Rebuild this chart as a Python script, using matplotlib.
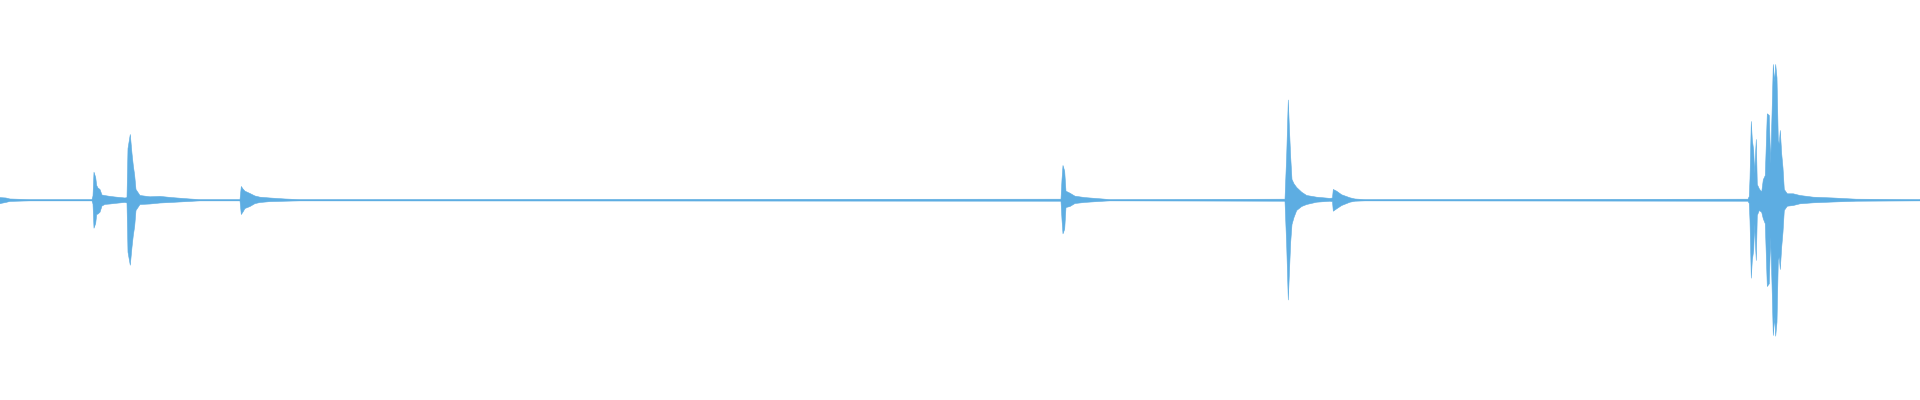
import numpy as np
import matplotlib.pyplot as plt

# Waveform envelope (x in pixel columns, amplitude in -1..1)
t_pts = [
    0, 6, 10, 30, 92, 93, 94, 95.7, 96.7, 98, 100, 102, 105, 110, 115, 125,
    127, 128, 130.3, 132, 133.3, 134.7, 136, 140, 150, 160, 172, 190, 200,
    240, 241.3, 243, 245, 250, 255, 260, 270, 285, 300,
    1061, 1062, 1063, 1064.7, 1066, 1070, 1075, 1085, 1100, 1110,
    1285, 1286.7, 1288.3, 1289.3, 1290.7, 1292, 1294, 1296.7, 1301.7, 1306.7,
    1316.7, 1330, 1332.5, 1333.3, 1336.7, 1341.7, 1350, 1355, 1365,
    1748, 1749.3, 1750, 1751.3, 1752.3, 1753.7, 1754.7, 1755.3, 1756.3, 1757.3,
    1759.3, 1761.7, 1763.3, 1765.3, 1767.3, 1769.3, 1770.7, 1772, 1773.3,
    1774.7, 1775.7, 1777, 1778.3, 1779.3, 1780.3, 1781.7, 1783, 1784.3,
    1787.3, 1793.3, 1800, 1813.3, 1833.3, 1856, 1920,
]
upper = [
    0.012, 0.010, 0.005, 0.002, 0.002, 0.020, 0.139, 0.1125, 0.0725, 0.060,
    0.0525, 0.025, 0.022, 0.018, 0.015, 0.010,
    0.012, 0.2575, 0.3275, 0.2325, 0.1725, 0.1225, 0.0525, 0.0225, 0.016,
    0.018, 0.012, 0.005, 0.002,
    0.002, 0.0675, 0.055, 0.044, 0.0325, 0.020, 0.014, 0.010, 0.005, 0.002,
    0.004, 0.1025, 0.1725, 0.144, 0.044, 0.034, 0.019, 0.012, 0.006, 0.002,
    0.004, 0.2225, 0.500, 0.3725, 0.214, 0.1025, 0.081, 0.0625, 0.039, 0.0225,
    0.014, 0.008, 0.010, 0.0525, 0.044, 0.026, 0.011, 0.005, 0.002,
    0.004, 0.0175, 0.106, 0.3925, 0.3025, 0.2475, 0.131, 0.2025, 0.3025, 0.0775,
    0.056, 0.039, 0.101, 0.1225, 0.431, 0.4225, 0.181, 0.4225, 0.6775,
    0.589, 0.6775, 0.611, 0.2975, 0.281, 0.3475, 0.231, 0.161, 0.0525,
    0.031, 0.031, 0.0225, 0.014, 0.010, 0.004, 0.002,
]
lower = [
    -0.018, -0.012, -0.007, -0.004, -0.004, -0.020, -0.141, -0.1175, -0.0725,
    -0.070, -0.061, -0.030, -0.022, -0.020, -0.017, -0.012,
    -0.015, -0.261, -0.326, -0.236, -0.1775, -0.131, -0.0525, -0.0225, -0.020,
    -0.015, -0.012, -0.007, -0.004,
    -0.004, -0.0725, -0.060, -0.0425, -0.0325, -0.018, -0.0125, -0.008, -0.006,
    -0.004,
    -0.006, -0.099, -0.169, -0.146, -0.0375, -0.0325, -0.0175, -0.012, -0.007,
    -0.004,
    -0.006, -0.2275, -0.500, -0.3775, -0.211, -0.1225, -0.0875, -0.0525,
    -0.0325, -0.0225,
    -0.011, -0.006, -0.008, -0.056, -0.044, -0.0275, -0.011, -0.006, -0.004,
    -0.006, -0.0175, -0.1025, -0.391, -0.3025, -0.2525, -0.119, -0.2025,
    -0.3025, -0.0775,
    -0.0525, -0.061, -0.094, -0.119, -0.4325, -0.419, -0.186, -0.419, -0.6775,
    -0.586, -0.681, -0.611, -0.3025, -0.286, -0.3475, -0.236, -0.161, -0.0525,
    -0.031, -0.0275, -0.019, -0.014, -0.010, -0.006, -0.004,
]

wave_color = "#5dade2"

fig = plt.figure(figsize=(19.2, 4), dpi=100)
ax = fig.add_axes([0, 0, 1, 1])

ax.fill_between(t_pts, lower, upper, color=wave_color, linewidth=0.4,
                edgecolor=wave_color)
ax.axhline(0, color=wave_color, linewidth=0.8)

ax.set_xlim(0, 1920)
ax.set_ylim(-1, 1)
ax.axis("off")

fig.savefig("out.png", dpi=100, facecolor="white")
